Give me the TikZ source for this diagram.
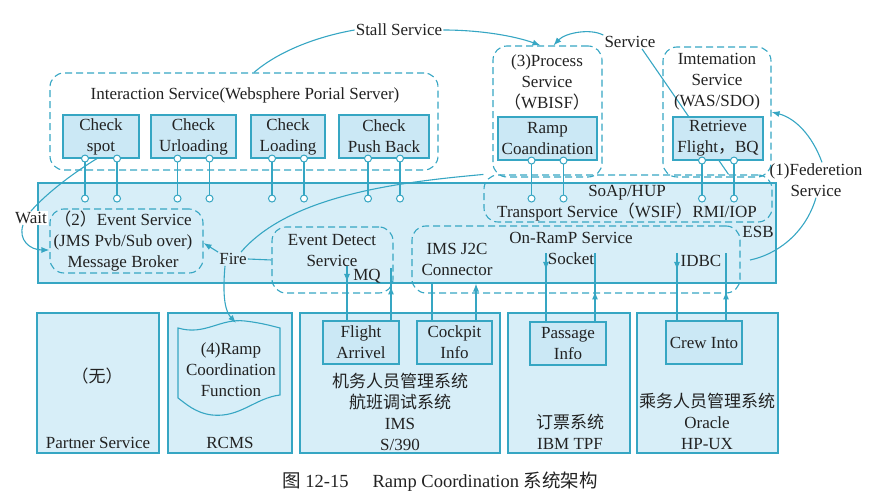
\documentclass[tikz,border=0pt]{standalone}
\usepackage{fontspec}
\setmainfont{Liberation Serif}
\newfontfamily\cjk{Noto Sans CJK SC}
\usetikzlibrary{arrows.meta,positioning,decorations.markings}
\definecolor{esbline}{HTML}{36A6C3}
\definecolor{esbfill}{HTML}{D7EEF8}
\definecolor{unitfill}{HTML}{CBE8F5}
\definecolor{ink}{HTML}{222222}
\newcommand{\zh}[1]{{\cjk #1}}

\begin{document}
\begin{tikzpicture}[x=1pt,y=-1pt,
  font=\fontsize{17}{21}\selectfont,text=ink,
  esb/.style={draw=esbline,fill=esbfill,line width=1.1pt},
  grp/.style={draw=esbline,dash pattern=on 7pt off 4pt,line width=1.1pt,rounded corners=14pt},
  unit/.style={draw=esbline,fill=unitfill,line width=1.1pt,align=center,inner sep=0pt},
  host/.style={draw=esbline,fill=esbfill,line width=1.1pt},
  jack/.style={circle,draw=esbline,fill=white,line width=1pt,inner sep=0pt,minimum size=7pt},
  wire/.style={esbline,line width=1.1pt},
  flow/.style={wire,-{Latex[length=8pt,width=6pt]}},
  lbl/.style={align=center,inner sep=1pt},
  tipat/.style={postaction={decorate},
    decoration={markings,mark=at position #1 with {\arrow{Latex[length=8pt,width=6pt]}}}}]
  \useasboundingbox (0,0) rectangle (886,502);

  % ESB and the service groups
  \node[esb,minimum width=738,minimum height=100] (esb) at (407,233) {};
  \node[grp,minimum width=388,minimum height=97] (inter) at (244,121.5) {};
  \node[grp,minimum width=109,minimum height=131] (proc) at (547.5,111.5) {};
  \node[grp,minimum width=108,minimum height=130] (intm) at (717,112) {};
  \node[grp,minimum width=288,minimum height=47] (soap) at (628,198.5) {};
  \node[grp,minimum width=153,minimum height=64] (evt) at (126.5,241) {};
  \node[grp,minimum width=121,minimum height=66] (det) at (332.5,260) {};
  \node[grp,minimum width=328,minimum height=67] (onr) at (576,259.5) {};

  \node[lbl] (srv) at (630,42) {Service};
  \draw[wire] ([xshift=12]srv.south) -- ([xshift=-44]soap.north east);

  % units
  \node[unit,minimum width=76,minimum height=43] (spot) at (101,136.5) {Check\\spot};
  \node[unit,minimum width=85,minimum height=43] (url) at (193.5,136.5) {Check\\Urloading};
  \node[unit,minimum width=74,minimum height=43] (load) at (288,136.5) {Check\\Loading};
  \node[unit,minimum width=90,minimum height=43] (push) at (384,136.5) {Check\\Push Back};
  \node[unit,minimum width=99,minimum height=43] (ramp) at (547.5,138.5) {Ramp\\Coandination};
  \node[unit,minimum width=90,minimum height=43] (retr) at (718,138.5) {Retrieve\\Flight\zh{，}BQ};

  \foreach \n in {spot,url,load,push}
    \foreach \d in {-16,16}
      \draw[wire] ([xshift=\d]\n.south) node[jack]{} -- ++(0,40) node[jack]{};
  \foreach \n in {ramp,retr}
    \foreach \d in {-16,16}
      \draw[wire] ([xshift=\d]\n.south) node[jack]{} -- ++(0,38) node[jack]{};

  % back-end hosts
  \node[host,minimum width=122,minimum height=140] (partner) at (98,383) {};
  \node[host,minimum width=124,minimum height=140] (rcms) at (230,383) {};
  \node[host,minimum width=200,minimum height=140] (ims) at (400,383) {};
  \node[host,minimum width=122,minimum height=140] (tpf) at (569,383) {};
  \node[host,minimum width=141,minimum height=140] (ora) at (707.5,383) {};

  \node[unit,minimum width=76,minimum height=43] (fa) at (361,342.5) {Flight\\Arrivel};
  \node[unit,minimum width=75,minimum height=43] (cock) at (454.5,342.5) {Cockpit\\Info};
  \node[unit,minimum width=76,minimum height=43] (pass) at (568,343.5) {Passage\\Info};
  \node[unit,minimum width=76,minimum height=43] (crew) at (704,342.5) {Crew Into};

  \draw[wire,fill=esbfill] (178,328) .. controls (205,336) and (220,318) .. (245,321)
    .. controls (262,323) and (272,326) .. (280,328) -- (280,395)
    .. controls (255,398) and (240,418) .. (212,415)
    .. controls (195,413) and (185,403) .. (178,398) -- cycle;
  \node[lbl] (doc) at (231,370) {(4)Ramp\\Coordination\\Function};

  % texts
  \node[lbl] (interT) at (245,95) {Interaction Service(Websphere Porial Server)};
  \node[lbl] (procT) at (547,82) {(3)Process\\Service\\\zh{（}WBISF\zh{）}};
  \node[lbl] (intmT) at (717,82) {Imtemation\\Service\\(WAS/SDO)};
  \node[lbl] (soapT) at (627,203) {SoAp/HUP\\Transport Service\zh{（}WSIF\zh{）}RMI/IOP};
  \node[lbl] (esbT) at (758,232) {ESB};
  \node[lbl] (evtT) at (123,241) {\zh{（}2\zh{）}Event Service\\(JMS Pvb/Sub over)\\Message Broker};
  \node[lbl] (detT) at (332,250.5) {Event Detect\\Service};
  \node[lbl] (mqT) at (367,276) {MQ};
  \node[lbl] (j2cT) at (457,259.5) {IMS J2C\\Connector};
  \node[lbl] (onrT) at (571,238) {On-RamP Service};
  \node[lbl] (sockT) at (571,259) {Socket};
  \node[lbl] (idbcT) at (701,261) {IDBC};
  \node[lbl] (stall) at (399,30) {Stall Service};
  \node[lbl] (fed) at (816,180) {(1)Federetion\\Service};
  \node[lbl,fill=white] (wait) at (31,218) {Wait};
  \node[lbl] (fire) at (233,259) {Fire};
  \node[lbl] (none) at (97,376) {\zh{（无）}};
  \node[lbl] (partT) at (98,443) {Partner Service};
  \node[lbl] (rcmsT) at (230,443) {RCMS};
  \node[lbl] (imsT) at (400,411.5) {\zh{机务人员管理系统}\\\zh{航班调试系统}\\IMS\\S/390};
  \node[lbl] (tpfT) at (570,431.5) {\zh{订票系统}\\IBM TPF};
  \node[lbl] (oraT) at (707,421.5) {\zh{乘务人员管理系统}\\Oracle\\HP-UX};
  \node[lbl,font=\fontsize{18.5}{22}\selectfont] (cap) at (440,482)
    {\zh{图} 12-15\hspace{1.3em}Ramp Coordination \zh{系统架构}};

  % connectors
  \coordinate (mqdn) at (347,266);
  \coordinate (mqup) at (391,268);
  \coordinate (jcln) at (432,0);
  \coordinate (jcup) at (476,0);
  \coordinate (skdn) at (546,253);
  \coordinate (skup) at (595,253);
  \coordinate (dbdn) at (677,253);
  \coordinate (dbup) at (726,253);
  \coordinate (docin) at (236,323);
  \coordinate (fedend) at (750,260);

  \draw[wire,tipat=16pt] (mqdn) -- (mqdn |- fa.north);
  \draw[wire,tipat=34pt] (mqup |- fa.north) -- (mqup);
  \draw[wire] (jcln |- cock.north) -- (jcln |- esb.south);
  \draw[flow] (jcup |- cock.north) -- (jcup |- esb.south);
  \draw[wire,tipat=17pt] (skdn) -- (skdn |- pass.north);
  \draw[wire,tipat=30pt] (skup |- pass.north) -- (skup);
  \draw[wire,tipat=17pt] (dbdn) -- (dbdn |- crew.north);
  \draw[wire,tipat=29pt] (dbup |- crew.north) -- (dbup);

  \draw[wire] ([xshift=10]inter.north) .. controls (280,50) and (320,36) .. (stall.west);
  \draw[flow] (stall.east) .. controls (480,30) and (515,36) .. ([xshift=-7]proc.north);
  \draw[flow] (srv.north west) .. controls (590,28) and (565,33) .. ([xshift=6]proc.north);
  \draw[flow] ([xshift=6]fed.north) .. controls (812,135) and (795,118) .. (intm.east);
  \draw[wire] (fed.south) .. controls (805,235) and (775,255) .. (fedend);
  \draw[wire] ([xshift=-4]spot.south) .. controls (70,175) and (45,195) .. (wait.north);
  \draw[flow] ([xshift=-8]wait.south) .. controls (18,240) and (30,250) .. ([yshift=-9pt]evt.west);
  \draw[flow] (fire.north west) -- ([yshift=-2pt]evt.east);
  \draw[wire] (fire.east) -- (det.west);
  \draw[wire] ([xshift=8]fire.north) .. controls (290,195) and (400,182) .. (soap.north west);
  \draw[flow] ([xshift=-8]fire.south) .. controls (222,300) and (226,312) .. (docin);
\end{tikzpicture}
\end{document}
